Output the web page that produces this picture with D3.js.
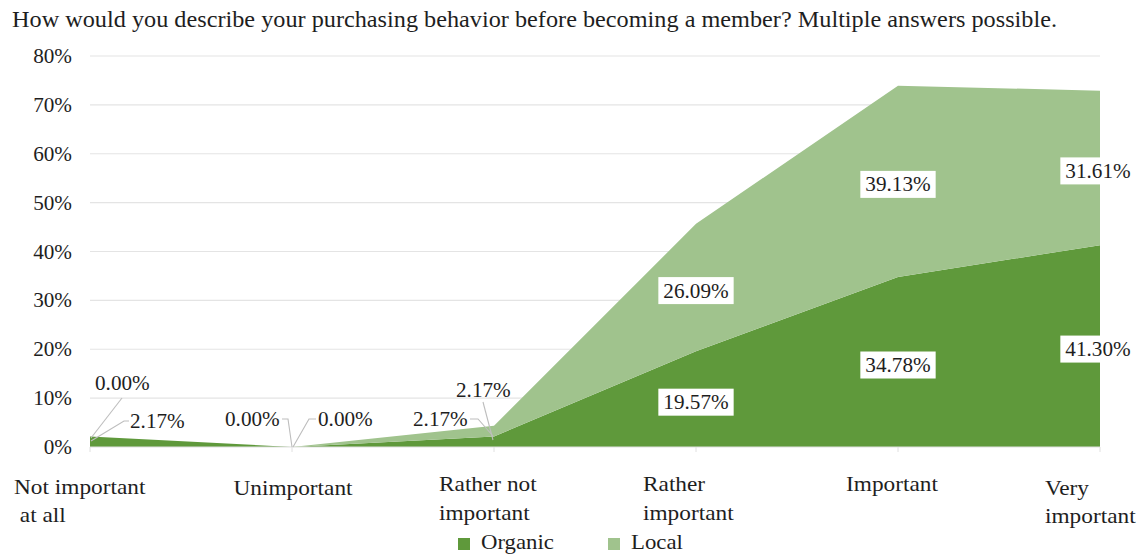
<!DOCTYPE html>
<html>
<head>
<meta charset="utf-8">
<script src="https://cdn.jsdelivr.net/npm/d3@7"></script>
<style>
  html, body { margin: 0; padding: 0; background: #fff; }
  svg { display: block; font-family: "Liberation Serif", "Times New Roman", serif; }
</style>
</head>
<body>
<svg id="chart" width="1140" height="554"></svg>
<script>
// Survey answers: share of respondents per importance level
const categories = ["Not important at all", "Unimportant", "Rather not important", "Rather important", "Important", "Very important"];
const categoryLines = [["Not important", " at all"], ["Unimportant"], ["Rather not", "important"], ["Rather", "important"], ["Important"], ["Very", "important"]];
const organic = [2.17, 0.00, 2.17, 19.57, 34.78, 41.30];
const local = [0.00, 0.00, 2.17, 26.09, 39.13, 31.61];
const seriesNames = ["Organic", "Local"];
const yTicks = [0, 10, 20, 30, 40, 50, 60, 70, 80];
const title = "How would you describe your purchasing behavior before becoming a member? Multiple answers possible.";

const colors = { Organic: "#5f993b", Local: "#a0c38d" };
const TEXT = "#1e1e1e";
const WIDE = 1.06; // slightly widened serif glyphs

const svg = d3.select("#chart");
const x = d3.scalePoint().domain(categories).range([90, 1100]);
const y = d3.scaleLinear().domain([0, 80]).range([447, 56]);

// place a horizontally widened text at (px, py)
function label(g, px, py, str, size, anchor) {
  return g.append("text")
    .attr("transform", `translate(${px},${py}) scale(${WIDE},1)`)
    .attr("font-size", size)
    .attr("fill", TEXT)
    .attr("text-anchor", anchor || "start")
    .attr("xml:space", "preserve")
    .text(str);
}

// title
svg.append("text")
  .attr("x", 12).attr("y", 27)
  .attr("font-size", 22.5).attr("fill", TEXT)
  .attr("textLength", 1045).attr("lengthAdjust", "spacingAndGlyphs")
  .text(title);

// gridlines
svg.append("g").selectAll("line").data(yTicks.filter(t => t > 0)).join("line")
  .attr("x1", 90).attr("x2", 1100)
  .attr("y1", d => y(d)).attr("y2", d => y(d))
  .attr("stroke", "#e4e4e4").attr("stroke-width", 1.2);

// y axis labels
const gy = svg.append("g");
yTicks.forEach(t => label(gy, 72, y(t) + 7, t + "%", 20, "end"));

// stacked areas
const rows = categories.map((c, i) => ({ cat: c, Organic: organic[i], Local: local[i] }));
const stack = d3.stack().keys(seriesNames)(rows);
const area = d3.area()
  .x(d => x(d.data.cat))
  .y0(d => y(d[0]))
  .y1(d => y(d[1]));
svg.append("g").selectAll("path").data(stack).join("path")
  .attr("d", area)
  .attr("fill", d => colors[d.key]);

// x axis baseline and category ticks
svg.append("line").attr("x1", 90).attr("x2", 1100).attr("y1", y(0)).attr("y2", y(0))
  .attr("stroke", "#e0e0e0").attr("stroke-width", 1);
svg.append("g").selectAll("line").data(categories).join("line")
  .attr("x1", d => x(d)).attr("x2", d => x(d))
  .attr("y1", y(0)).attr("y2", y(0) + 5)
  .attr("stroke", "#e0e0e0");

// category labels (wrapped)
const catLayout = [
  { anchor: "start", dx: -76, base: [494, 522], indent: [0, 0] },
  { anchor: "middle", dx: 1, base: [495] },
  { anchor: "start", dx: -55, base: [491, 520] },
  { anchor: "start", dx: -53, base: [491, 520] },
  { anchor: "middle", dx: -6, base: [491] },
  { anchor: "start", dx: -55, base: [495, 523] }
];
const gx = svg.append("g");
categoryLines.forEach((lines, i) => {
  const L = catLayout[i];
  lines.forEach((ln, j) => {
    label(gx, x(categories[i]) + L.dx + (L.indent ? L.indent[j] : 0), L.base[j], ln, 22, L.anchor);
  });
});

// value labels in the large bands: white boxes centred in each band
const fmt = v => v.toFixed(2) + "%";
const gb = svg.append("g");
stack.forEach(s => {
  s.forEach((d, i) => {
    if (i < 3) return;
    const cx = x(categories[i]) - (i === 5 ? 2 : 0);
    const cy = y((d[0] + d[1]) / 2) + 3;
    const t = label(gb, cx, cy + 7, fmt(d.data[s.key]), 20, "middle");
    const w = t.node().getComputedTextLength() * WIDE;
    gb.insert("rect", "text")
      .attr("x", cx - w / 2 - 5).attr("y", cy - 13.5)
      .attr("width", w + 10).attr("height", 27)
      .attr("fill", "#fff");
  });
});

// small values: labels pulled aside with leader lines
const smallLabels = [
  { s: "Local", i: 0, tx: 95, ty: 390, leader: [[91, 438], [122, 398]] },
  { s: "Organic", i: 0, tx: 130, ty: 428, leader: [[91, 441], [124, 421], [129, 421]] },
  { s: "Organic", i: 1, tx: 225, ty: 426, leader: [[282, 419], [288, 419], [292, 447]] },
  { s: "Local", i: 1, tx: 318, ty: 426, leader: [[316, 419], [309, 419], [293, 447]] },
  { s: "Organic", i: 2, tx: 413, ty: 426, leader: [[470, 419], [478, 419], [493, 436]] },
  { s: "Local", i: 2, tx: 456, ty: 397, leader: [[483, 402], [493, 440]] }
];
const gl = svg.append("g");
smallLabels.forEach(l => {
  const v = l.s === "Organic" ? organic[l.i] : local[l.i];
  gl.append("path")
    .attr("d", d3.line()(l.leader))
    .attr("fill", "none").attr("stroke", "#bdbdbd").attr("stroke-width", 1.1);
  label(gl, l.tx, l.ty, fmt(v), 20, "start");
});

// legend
const lg = svg.append("g");
const legendX = [458, 608];
seriesNames.forEach((n, k) => {
  lg.append("rect").attr("x", legendX[k]).attr("y", 538).attr("width", 12).attr("height", 12)
    .attr("fill", colors[n]);
  label(lg, legendX[k] + 23, 549, n, 21.5, "start");
});
</script>
</body>
</html>
